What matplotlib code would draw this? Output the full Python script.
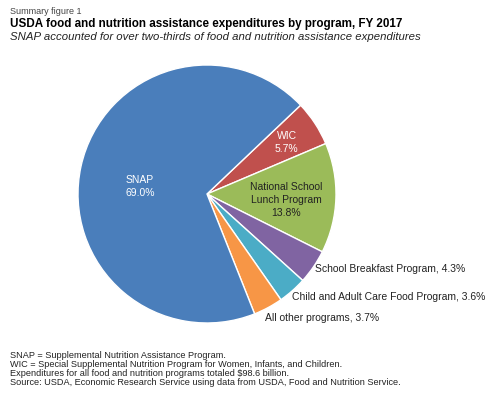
import matplotlib
matplotlib.use("Agg")
from matplotlib import pyplot as plt

plt.rcParams['font.family'] = ['Liberation Sans', 'DejaVu Sans']

# data, clockwise from the SNAP/WIC boundary
programs = ['WIC', 'National School\nLunch Program', 'School Breakfast Program',
            'Child and Adult Care Food Program', 'All other programs', 'SNAP']
shares = [5.7, 13.8, 4.3, 3.6, 3.7, 69.0]
colors = ['#C0504D', '#9BBB59', '#8064A2', '#4BACC6', '#F79646', '#4A7EBB']

fig = plt.figure(figsize=(5, 4.11), dpi=100)
ax = fig.add_axes([0.156, 0.214, 0.516, 0.628])
ax.pie(shares, colors=colors, startangle=43.5, counterclock=False,
       wedgeprops={'edgecolor': 'white', 'linewidth': 1})
ax.set_xlim(-1, 1)
ax.set_ylim(-1, 1)
ax.set_aspect('equal')

# label placement (data coords of the pie, radius 1)
inside = {0: (0.618, 0.398, 'white'), 1: (0.612, -0.047, '#222222'),
          5: (-0.52, 0.06, 'white')}
outside = {2: (0.837, -0.581), 3: (0.657, -0.80), 4: (0.45, -0.961)}
for i, (x, y, c) in inside.items():
    ax.text(x, y, f"{programs[i]}\n{shares[i]:.1f}%", ha='center', va='center',
            color=c, fontsize=7.5, linespacing=1.35)
for i, (x, y) in outside.items():
    ax.text(x, y, f"{programs[i]}, {shares[i]:.1f}%", ha='left', va='center',
            color='#222222', fontsize=7.5, clip_on=False)

fig.text(0.02, 1 - 11 / 411, 'Summary figure 1', fontsize=6.5, color='#444444', va='center')
fig.text(0.02, 1 - 24 / 411, 'USDA food and nutrition assistance expenditures by program, FY 2017',
         fontsize=8.4, fontweight='bold', va='center')
fig.text(0.02, 1 - 37 / 411, 'SNAP accounted for over two-thirds of food and nutrition assistance expenditures',
         fontsize=8.2, style='italic', va='center', color='#222222')

notes = ['SNAP = Supplemental Nutrition Assistance Program.',
         'WIC = Special Supplemental Nutrition Program for Women, Infants, and Children.',
         'Expenditures for all food and nutrition programs totaled $98.6 billion.',
         'Source: USDA, Economic Research Service using data from USDA, Food and Nutrition Service.']
for k, line in enumerate(notes):
    fig.text(0.02, 1 - (355 + 9.3 * k) / 411, line, fontsize=6.6, va='center', color='#222222')

fig.savefig('out.png', dpi=100)
